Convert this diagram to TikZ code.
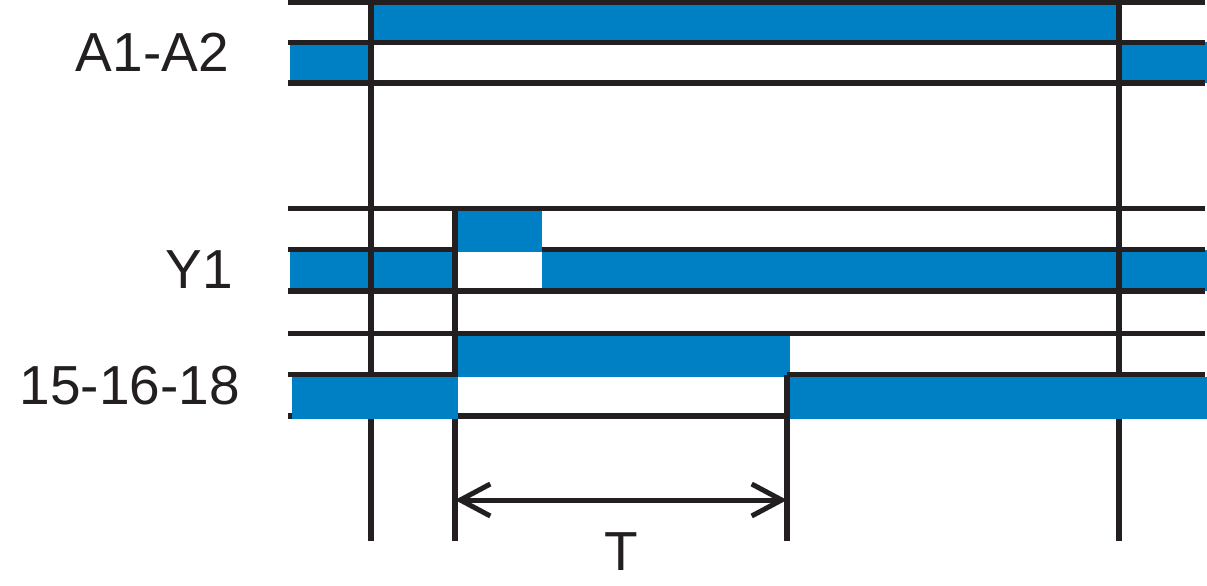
\documentclass[tikz,border=0pt]{standalone}
\usepackage{fontspec}
\setmainfont{Liberation Sans}
\usetikzlibrary{arrows.meta}
\definecolor{sigblue}{RGB}{0,128,196}
\definecolor{ink}{RGB}{35,31,32}
\tikzset{
  grid/.style={draw=ink,line width=5.5pt,line cap=butt},
  fillblue/.style={fill=sigblue,draw=none},
  lbl/.style={inner sep=0pt,text=ink,font=\fontsize{55}{60}\selectfont},
  dimarrow/.style={draw=ink,line width=5pt,{Straight Barb[length=30pt,width=32pt]}-{Straight Barb[length=30pt,width=32pt]}}
}
\begin{document}
\begin{tikzpicture}[x=1pt,y=-1pt]
\useasboundingbox (0,0) rectangle (1207,586);
% coordinates
\coordinate (L) at (288,0);
\coordinate (v1t) at (371,0);   \coordinate (v1b) at (371,541);
\coordinate (v2t) at (455,208.5); \coordinate (v2b) at (455,541);
\coordinate (v3t) at (787,374.5); \coordinate (v3b) at (787,541);
\coordinate (v4t) at (1119,0);  \coordinate (v4b) at (1119,541);
\coordinate (arL) at (455,500); \coordinate (arR) at (787,500);

% A1-A2 fills
\fill[fillblue] (290,42.5) rectangle (371,83);
\fill[fillblue] (371,2) rectangle (1119,42.5);
\fill[fillblue] (1119,42.5) rectangle (1207,83);
% Y1 fills
\fill[fillblue] (290,249.5) rectangle (455,291);
\fill[fillblue] (458,211) rectangle (542,252);
\fill[fillblue] (542,249.5) rectangle (1207,291);
% 15-16-18 top fill
\fill[fillblue] (458,336) rectangle (790,377);

% horizontal lines
\draw[grid] (288,2) -- (1205,2);
\draw[grid] (288,42.5) -- (1205,42.5);
\draw[grid] (288,83) -- (1205,83);
\draw[grid] (288,208.5) -- (1205,208.5);
\draw[grid] (288,249.5) -- (455,249.5);
\draw[grid] (542,249.5) -- (1205,249.5);
\draw[grid] (288,291) -- (1205,291);
\draw[grid] (288,333.5) -- (1205,333.5);
\draw[grid] (288,374.5) -- (455,374.5);
\draw[grid] (787,374.5) -- (1205,374.5);
\draw[grid] (288,416) -- (1205,416);

% vertical lines
\draw[grid] (v1t) -- (v1b);
\draw[grid] (v2t) -- (v2b);
\draw[grid] (v3t) -- (v3b);
\draw[grid] (v4t) -- (v4b);

% 15-16-18 bottom fills (on top)
\fill[fillblue] (291.5,377) rectangle (457.5,419);
\fill[fillblue] (790,377) rectangle (1207,419);

% dimension arrow
\draw[dimarrow] (arL) -- (arR);

% labels
\node[lbl,anchor=base east] (la) at (229,71) {A1-A2};
\node[lbl,anchor=base east] (ly) at (233,288) {Y1};
\node[lbl,anchor=base east] (lr) at (240,404) {15-16-18};
\node[lbl,anchor=base] (lt) at (621,570) {T};
\end{tikzpicture}
\end{document}
